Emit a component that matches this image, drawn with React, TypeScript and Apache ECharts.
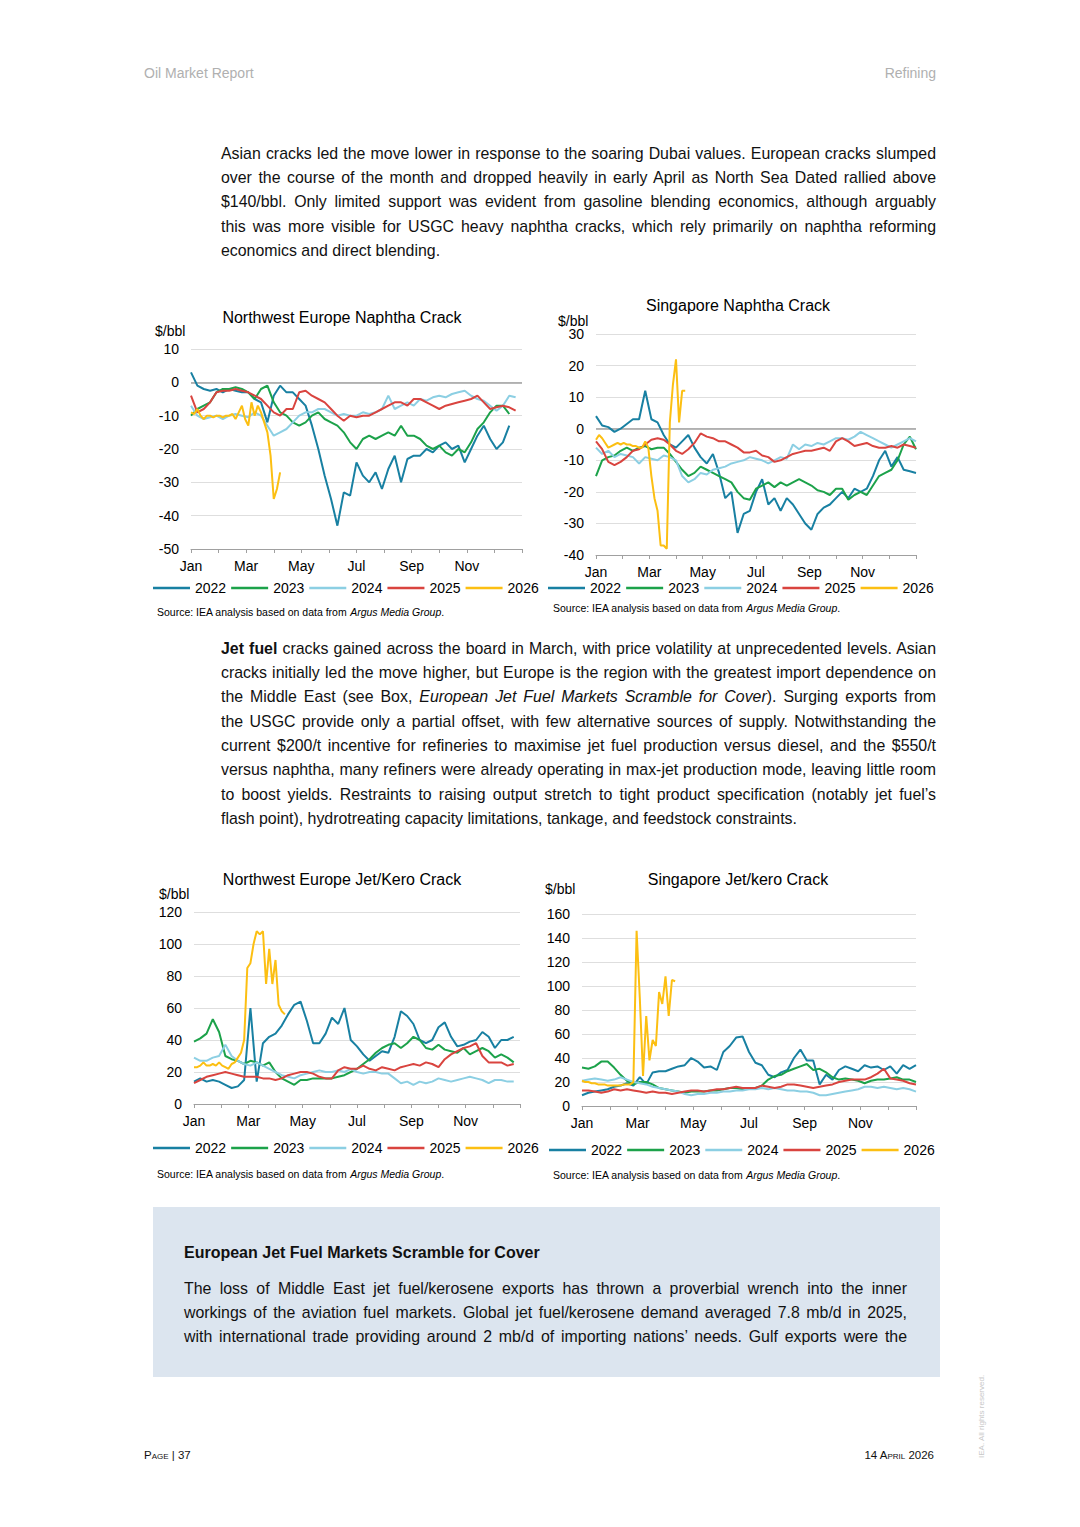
import React, { useEffect, useRef } from "react";
import * as echarts from "echarts";

const FONT = "'Liberation Sans', Arial, Helvetica, sans-serif";
const YEARS = ["2022", "2023", "2024", "2025", "2026"];
const COLORS = ["#1880a2", "#1ca24a", "#8ccfe3", "#d9443f", "#fcbf12"];
const MONTH_LABELS = ["Jan", "", "Mar", "", "May", "", "Jul", "", "Sep", "", "Nov", "", ""];
const WEEK = 12 / 52;
const HALF_WEEK = 12 / 104;

// Northwest Europe Naphtha Crack ($/bbl), weekly (2026 half-weekly)
const NWE_NAPHTHA_2022 = [3, -1, -2, -2.5, -2, -3, -2, -2.5, -3, -3, -5, -6, -12, -4, -1, -3, -3, -5, -7, -13, -20, -28, -35, -43, -33, -34, -24, -28, -30, -27, -32, -26, -22, -30, -23, -22, -22, -20, -21, -19, -18, -20, -19, -24, -20, -16, -13, -17, -20, -18, -13];
const NWE_NAPHTHA_2023 = [-10, -8, -7, -6, -3, -2, -2, -1.5, -2, -3, -5, -2, -1, -6, -9, -10, -12, -13, -12, -10, -9, -11, -12, -13, -15, -18, -20, -17, -16, -17, -16, -15, -16, -13, -16, -16, -17, -19, -20, -19, -21, -22, -20, -21, -18, -14, -12, -9, -7, -7, -9.5];
const NWE_NAPHTHA_2024 = [-7, -10, -11, -10.5, -10, -11, -10, -9.5, -10, -10.5, -9, -10, -13, -16, -15, -14, -12, -10, -9, -9, -8, -8, -9, -10, -9.5, -10, -10, -9, -9.5, -9, -8, -4, -8, -7, -6, -7, -5, -5.5, -4.5, -4, -4.5, -3.5, -3, -2.5, -4, -5, -5.5, -7, -8.5, -7, -4, -4.5];
const NWE_NAPHTHA_2025 = [-4, -9, -8, -6, -3, -2.5, -2.5, -2, -2.5, -3, -4, -5, -7, -9, -10, -8, -8, -3, -2.5, -4, -5, -6, -8, -10, -11.5, -10, -10.5, -10, -10, -9, -8, -7, -6, -6, -7, -5, -5, -6, -7, -8, -7, -6.5, -6, -5.5, -5, -4, -6, -8, -7.5, -7, -7.5, -8.5];
const NWE_NAPHTHA_2026 = [-9, -9.5, -8, -10, -11, -10, -10, -10.5, -10, -10, -10.5, -10, -10, -9.5, -11, -9, -7, -11, -13, -6, -10, -7, -9, -12, -15, -22, -35, -32, -27];

// Singapore Naphtha Crack ($/bbl)
const SG_NAPHTHA_2022 = [4, 1, 0.5, -1, 0, 1.5, 3, 3, 12, 3, 2, -2, -5, -6, -4, -2, -6, -9, -11, -8, -14, -22, -20, -33, -27, -26, -20, -16, -24, -22, -26, -22, -24, -27, -30, -32, -27, -25, -24, -22, -20, -22, -19, -20, -19, -15, -10, -7, -12, -9, -13, -13.5, -14];
const SG_NAPHTHA_2023 = [-15, -10, -9, -8.5, -7, -6, -7, -6, -5.5, -6.5, -6, -6, -8, -10.5, -13, -15, -14, -12, -13, -14, -15, -16, -17, -20, -22, -22.5, -19, -18, -17, -18.5, -17, -18, -17, -16, -17, -18, -19.5, -20, -21, -19, -19, -22.5, -21, -20, -21, -18, -15, -14, -13, -10, -5, -2.5, -6.5];
const SG_NAPHTHA_2024 = [-6, -8, -7, -9, -8, -8.5, -9, -11, -9, -9.5, -10, -8.5, -9, -10, -15, -17, -16, -14, -14.5, -13, -12.5, -12, -11, -10.5, -10, -9, -9.5, -10, -11, -10, -9, -9.5, -5, -6.5, -5, -5.5, -4.5, -5, -4, -3, -3, -3.5, -2.5, -1, -2, -3, -4, -5, -6, -5, -4, -3, -4];
const SG_NAPHTHA_2025 = [-4, -6.5, -10.5, -11.5, -10.5, -9, -7, -6.5, -5, -3.5, -3, -3.5, -5, -7, -8, -6.5, -4.5, -1.5, -2.5, -3, -4, -4, -5, -6, -7.5, -7.5, -7, -8.5, -9, -10.5, -10, -9, -8, -7.5, -7, -7, -6.5, -6, -7, -4, -3, -4, -5.5, -5, -4.5, -5.5, -6, -6, -5.5, -6, -5, -5.5, -6];
const SG_NAPHTHA_2026 = [-3.5, -2, -3, -4.5, -6, -5.5, -5, -4.5, -5, -4.5, -5, -5, -5.5, -5.5, -6, -6, -4, -6, -15, -22, -26, -37, -37, -38, 2, 14, 22, 2, 12, 12];

// Northwest Europe Jet/Kero Crack ($/bbl)
const NWE_JET_2022 = [14, 16, 14, 15, 14, 12, 10, 11, 15, 60, 14, 38, 42, 44, 49, 56, 62, 64, 52, 38, 38, 44, 54, 50, 60, 40, 36, 31, 27, 30, 33, 32, 42, 58, 55, 50, 40, 38, 40, 48, 51, 42, 36, 37, 39, 40, 45, 42, 35, 40, 40, 42];
const NWE_JET_2023 = [39, 41, 44, 53, 45, 30, 28, 27, 25, 27, 26, 24, 26, 20, 16, 14, 12, 15, 15, 16, 16, 16, 16, 17, 18, 20, 22, 25, 28, 32, 35, 37, 38, 35, 38, 42, 40, 35, 34, 37, 34, 33, 32, 35, 31, 33, 35, 33, 29, 31, 29, 26];
const NWE_JET_2024 = [29, 27, 27, 29, 30, 37, 30, 27, 25, 24, 26, 24, 22, 20, 18, 17, 16, 18, 19, 20, 21, 20, 20, 21, 20, 22, 20, 19, 20, 20, 19, 19, 16, 13, 14, 12, 14, 13, 14, 16, 15, 14, 15, 16, 17, 16, 15, 13, 15, 15, 14, 14];
const NWE_JET_2025 = [13, 15, 17, 18, 19, 20, 19, 18, 17, 17, 17, 16, 16, 15, 16, 18, 19, 20, 20, 19, 17, 16, 16, 21, 23, 22, 22, 24, 22, 21, 23, 22, 21, 23, 24, 25, 24, 26, 25, 23, 28, 31, 33, 35, 36, 38, 30, 26, 26, 26, 24, 25];
const NWE_JET_2026 = [23, 23, 24, 26, 24, 24, 25, 24, 26, 24, 23, 22, 25, 26, 29, 32, 40, 85, 88, 100, 108, 106, 108, 75, 97, 75, 90, 62, 58, 56];

// Singapore Jet/kero Crack ($/bbl)
const SG_JET_2022 = [9, 11, 12, 13, 14, 16, 17, 19, 17, 24, 18, 28, 29, 29, 31, 33, 34, 40, 37, 32, 33, 30, 45, 50, 57, 58, 45, 36, 34, 26, 24, 28, 30, 40, 47, 38, 38, 18, 26, 22, 30, 33, 31, 29, 34, 32, 33, 30, 33, 27, 34, 31, 34];
const SG_JET_2023 = [32, 31, 33, 37, 37, 32, 26, 21, 18, 20, 20, 18, 15, 14, 13, 12, 11, 12, 12, 12, 13, 13, 14, 15, 15, 14, 15, 15, 17, 22, 25, 26, 29, 31, 33, 35, 30, 31, 28, 24, 22, 23, 22, 21, 19, 21, 22, 22, 23, 24, 22, 22, 20];
const SG_JET_2024 = [21, 22, 23, 22, 21, 22, 24, 22, 20, 19, 18, 16, 15, 14, 13, 12, 10, 9, 10, 10, 11, 11, 12, 12, 13, 13, 14, 14, 15, 14, 15, 14, 13, 13, 12, 12, 11, 9, 9, 10, 11, 12, 13, 14, 16, 16, 15, 16, 15, 14, 15, 14, 12];
const SG_JET_2025 = [13, 13, 12, 11, 12, 14, 13, 14, 13, 12, 11, 12, 11, 11, 10, 11, 12, 13, 13, 12, 13, 14, 14, 15, 16, 15, 15, 15, 17, 16, 15, 16, 18, 18, 17, 16, 15, 16, 17, 18, 20, 21, 22, 22, 22, 24, 27, 31, 23, 22, 21, 19, 18];
const SG_JET_2026 = [21, 20, 20, 19, 19, 18, 18, 18, 17, 17, 17, 17, 17, 18, 18, 18, 20, 146, 90, 25, 75, 38, 55, 50, 95, 85, 108, 75, 105, 104];

const CHART_TITLES = ["Northwest Europe Naphtha Crack", "Singapore Naphtha Crack", "Northwest Europe Jet/Kero Crack", "Singapore Jet/kero Crack"];
const Y_MIN = [-50, -40, 0, 0];
const Y_MAX = [10, 30, 120, 160];
const Y_STEP = [10, 10, 20, 20];

const CHART_DATA = [
  [NWE_NAPHTHA_2022, NWE_NAPHTHA_2023, NWE_NAPHTHA_2024, NWE_NAPHTHA_2025, NWE_NAPHTHA_2026],
  [SG_NAPHTHA_2022, SG_NAPHTHA_2023, SG_NAPHTHA_2024, SG_NAPHTHA_2025, SG_NAPHTHA_2026],
  [NWE_JET_2022, NWE_JET_2023, NWE_JET_2024, NWE_JET_2025, NWE_JET_2026],
  [SG_JET_2022, SG_JET_2023, SG_JET_2024, SG_JET_2025, SG_JET_2026],
];

// layout (page pixels)
const GRIDS = [
  { left: 191, top: 349, width: 331, height: 200 },
  { left: 596, top: 334, width: 320, height: 221 },
  { left: 194, top: 912, width: 326, height: 192 },
  { left: 582, top: 914, width: 334, height: 192 },
];
const TITLE_POS = [[342, 317], [738, 305], [342, 879], [738, 879]];
const UNIT_POS = [[155, 331], [558, 321], [159, 894], [545, 889]];
const SOURCE_POS = [[157, 612], [553, 608], [157, 1174], [553, 1175]];
const LEGEND_POS = [[153, 581], [548, 581], [153, 1141], [549, 1143]];

function buildOption() {
  const grid = GRIDS.map((g) => ({ ...g, containLabel: false }));
  const xAxis = GRIDS.map((_, k) => ({
    type: "value",
    gridIndex: k,
    min: 0,
    max: 12,
    interval: 1,
    axisLine: { show: true, onZero: false, lineStyle: { color: "#a0a0a0", width: 1 } },
    axisTick: { show: true, length: 4, lineStyle: { color: "#a0a0a0" } },
    axisLabel: {
      margin: 10,
      fontSize: 14,
      color: "#000",
      fontFamily: FONT,
      formatter: (v: number) => MONTH_LABELS[Math.round(v)] || "",
    },
    splitLine: { show: false },
  }));
  const yAxis = GRIDS.map((_, k) => ({
    type: "value",
    gridIndex: k,
    min: Y_MIN[k],
    max: Y_MAX[k],
    interval: Y_STEP[k],
    axisLine: { show: false },
    axisTick: { show: false },
    axisLabel: { margin: 12, fontSize: 14, color: "#000", fontFamily: FONT },
    splitLine: { show: true, lineStyle: { color: "#dedede", width: 1 } },
  }));
  const series: any[] = [];
  CHART_DATA.forEach((years, k) => {
    years.forEach((arr, y) => {
      const step = y === 4 ? HALF_WEEK : WEEK;
      const s: any = {
        type: "line",
        name: YEARS[y],
        xAxisIndex: k,
        yAxisIndex: k,
        data: arr.map((v, i) => [i * step, v]),
        symbol: "none",
        showSymbol: false,
        smooth: false,
        color: COLORS[y],
        itemStyle: { color: COLORS[y] },
        lineStyle: { color: COLORS[y], width: 2 },
        z: 2 + y,
        silent: true,
      };
      if (y === 0 && Y_MIN[k] < 0) {
        s.markLine = {
          silent: true,
          symbol: ["none", "none"],
          label: { show: false },
          lineStyle: { color: "#a0a0a0", width: 1.5, type: "solid" },
          data: [{ yAxis: 0 }],
          z: 1,
        };
      }
      series.push(s);
    });
  });
  const legend = LEGEND_POS.map(([l, t]) => ({
    data: YEARS.map((name) => ({ name, icon: "rect" })),
    left: l,
    top: t,
    orient: "horizontal",
    icon: "rect",
    itemWidth: 37,
    itemHeight: 2.5,
    itemGap: 5,
    padding: 0,
    selectedMode: false,
    textStyle: { fontSize: 14, color: "#000", fontFamily: FONT, lineHeight: 14 },
  }));
  const graphic: any[] = [];
  CHART_TITLES.forEach((t, k) => {
    graphic.push({
      type: "text",
      x: TITLE_POS[k][0],
      y: TITLE_POS[k][1],
      silent: true,
      style: { text: t, fontSize: 16, fontFamily: FONT, fill: "#000", align: "center", verticalAlign: "middle" },
    });
    graphic.push({
      type: "text",
      x: UNIT_POS[k][0],
      y: UNIT_POS[k][1],
      silent: true,
      style: { text: "$/bbl", fontSize: 14, fontFamily: FONT, fill: "#000", align: "left", verticalAlign: "middle" },
    });
    graphic.push({
      type: "text",
      x: SOURCE_POS[k][0],
      y: SOURCE_POS[k][1],
      silent: true,
      style: {
        text: "Source: IEA analysis based on data from {i|Argus Media Group}.",
        fontSize: 10.5,
        fontFamily: FONT,
        fill: "#000",
        align: "left",
        verticalAlign: "middle",
        rich: { i: { fontStyle: "italic", fontSize: 10.5, fontFamily: FONT, fill: "#000" } },
      },
    });
  });
  return {
    animation: false,
    textStyle: { fontFamily: FONT },
    grid,
    xAxis,
    yAxis,
    legend,
    series,
    graphic,
  };
}

const P_FONT = 15.9;
const LH = 24.3;

function JLine(props: { left: number; center: number; width: number; last?: boolean; children: any }) {
  const { left, center, width, last, children } = props;
  return (
    <div
      style={{
        position: "absolute",
        left,
        top: center - LH / 2,
        width,
        height: LH,
        lineHeight: LH + "px",
        fontSize: P_FONT,
        whiteSpace: "nowrap",
        textAlign: last ? "left" : "justify",
        textAlignLast: last ? "left" : "justify",
        color: "#111",
      } as any}
    >
      {children}
    </div>
  );
}

const PARA1 = [
  "Asian cracks led the move lower in response to the soaring Dubai values. European cracks slumped",
  "over the course of the month and dropped heavily in early April as North Sea Dated rallied above",
  "$140/bbl. Only limited support was evident from gasoline blending economics, although arguably",
  "this was more visible for USGC heavy naphtha cracks, which rely primarily on naphtha reforming",
  "economics and direct blending.",
];

const PARA2_REST = [
  "cracks initially led the move higher, but Europe is the region with the greatest import dependence on",
  "",
  "the USGC provide only a partial offset, with few alternative sources of supply. Notwithstanding the",
  "current $200/t incentive for refineries to maximise jet fuel production versus diesel, and the $550/t",
  "versus naphtha, many refiners were already operating in max-jet production mode, leaving little room",
  "to boost yields. Restraints to raising output stretch to tight product specification (notably jet fuel\u2019s",
  "flash point), hydrotreating capacity limitations, tankage, and feedstock constraints.",
];

const BOX_LINES = [
  "The loss of Middle East jet fuel/kerosene exports has thrown a proverbial wrench into the inner",
  "workings of the aviation fuel markets. Global jet fuel/kerosene demand averaged 7.8 mb/d in 2025,",
  "with international trade providing around 2 mb/d of importing nations\u2019 needs. Gulf exports were the",
];

export default function App() {
  const ref = useRef<HTMLDivElement>(null);
  useEffect(() => {
    document.body.style.margin = "0";
    const chart = echarts.init(ref.current as HTMLDivElement, null, { renderer: "svg", width: 1080, height: 1527 });
    chart.setOption(buildOption() as any);
    return () => chart.dispose();
  }, []);

  const p2c = (i: number) => 649 + LH * i;

  return (
    <div style={{ position: "relative", width: 1080, height: 1527, background: "#fff", fontFamily: FONT, overflow: "hidden" }}>
      <div ref={ref} style={{ position: "absolute", left: 0, top: 0, width: 1080, height: 1527 }} />

      <div style={{ position: "absolute", left: 144, top: 65, fontSize: 14, lineHeight: "16px", color: "#b0b0b0" }}>Oil Market Report</div>
      <div style={{ position: "absolute", right: 144, top: 65, fontSize: 14, lineHeight: "16px", color: "#b0b0b0" }}>Refining</div>

      {PARA1.map((t, i) => (
        <JLine key={"p1" + i} left={221} center={154 + LH * i} width={715} last={i === PARA1.length - 1}>
          {t}
        </JLine>
      ))}

      <JLine left={221} center={p2c(0)} width={715}>
        <b>Jet fuel</b> cracks gained across the board in March, with price volatility at unprecedented levels. Asian
      </JLine>
      <JLine left={221} center={p2c(1)} width={715}>{PARA2_REST[0]}</JLine>
      <JLine left={221} center={p2c(2)} width={715}>
        the Middle East (see Box, <i>European Jet Fuel Markets Scramble for Cover</i>). Surging exports from
      </JLine>
      {PARA2_REST.slice(2).map((t, i) => (
        <JLine key={"p2" + i} left={221} center={p2c(i + 3)} width={715} last={i === PARA2_REST.length - 3}>
          {t}
        </JLine>
      ))}

      <div style={{ position: "absolute", left: 153, top: 1207, width: 787, height: 170, background: "#dce5ef" }} />
      <div style={{ position: "absolute", left: 184, top: 1243, fontSize: 16, lineHeight: "20px", fontWeight: "bold", color: "#111" }}>
        European Jet Fuel Markets Scramble for Cover
      </div>
      {BOX_LINES.map((t, i) => (
        <JLine key={"b" + i} left={184} center={1289 + 24 * i} width={723}>
          {t}
        </JLine>
      ))}

      <div style={{ position: "absolute", left: 144, top: 1448, fontSize: 11.5, lineHeight: "14px", fontVariant: "small-caps", color: "#111" }}>
        Page | 37
      </div>
      <div style={{ position: "absolute", right: 146, top: 1448, fontSize: 11.5, lineHeight: "14px", fontVariant: "small-caps", color: "#111" }}>
        14 April 2026
      </div>
      <div
        style={{
          position: "absolute",
          left: 977,
          top: 1458,
          transformOrigin: "0 0",
          transform: "rotate(-90deg)",
          fontSize: 8,
          lineHeight: "10px",
          whiteSpace: "nowrap",
          color: "#c8c8c8",
        }}
      >
        IEA. All rights reserved.
      </div>
    </div>
  );
}
